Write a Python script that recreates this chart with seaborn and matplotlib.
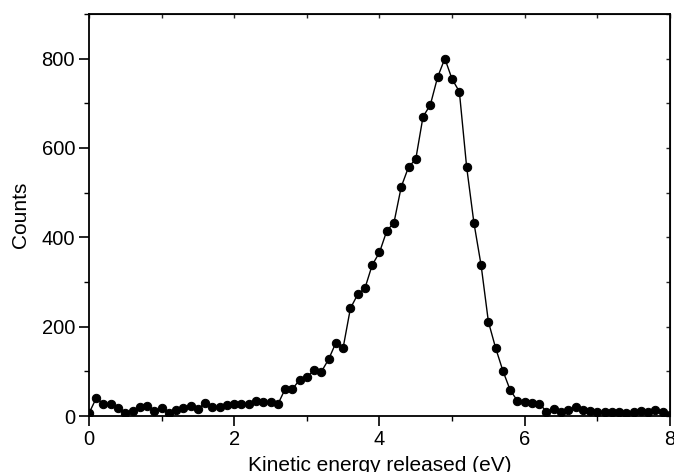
import matplotlib
matplotlib.use("Agg")
import matplotlib.pyplot as plt
import seaborn as sns
from matplotlib.ticker import MultipleLocator

# Kinetic energy (eV), 0.1 eV bins
energy = [round(0.1 * i, 1) for i in range(81)]

counts = [
    6, 40, 27, 26, 17, 6, 11, 21, 22, 12,      # 0.0 - 0.9
    17, 6, 13, 17, 22, 15, 30, 21, 20, 25,     # 1.0 - 1.9
    28, 28, 27, 34, 31, 31, 26, 60, 60, 81,    # 2.0 - 2.9
    87, 103, 99, 127, 164, 153, 241, 272, 286, 338,   # 3.0 - 3.9
    366, 414, 433, 513, 557, 575, 670, 696, 758, 800,  # 4.0 - 4.9
    754, 726, 558, 433, 337, 211, 152, 101, 58, 34,    # 5.0 - 5.9
    32, 30, 28, 10, 15, 8, 13, 21, 13, 11,     # 6.0 - 6.9
    10, 8, 8, 8, 7, 8, 11, 8, 13, 8,           # 7.0 - 7.9
    2,                                         # 8.0
]

sns.set_style("ticks")
plt.rcParams["font.family"] = ["Liberation Sans", "DejaVu Sans"]
plt.rcParams["axes.labelcolor"] = "black"
plt.rcParams["text.color"] = "black"

fig = plt.figure(figsize=(6.74, 4.72), dpi=100)
ax = fig.add_axes([0.132, 0.1186, 0.862, 0.852])

sns.lineplot(
    x=energy, y=counts, ax=ax,
    color="black", linewidth=1.0,
    marker="o", markersize=6, markeredgecolor="black",
)

ax.set_xlim(0, 8)
ax.set_ylim(0, 900)
ax.xaxis.set_major_locator(MultipleLocator(2))
ax.xaxis.set_minor_locator(MultipleLocator(1))
ax.yaxis.set_major_locator(MultipleLocator(200))
ax.yaxis.set_minor_locator(MultipleLocator(100))

for s in ax.spines.values():
    s.set_linewidth(1.3)
    s.set_color("black")

ax.tick_params(which="major", direction="out", length=7, width=1.2,
               labelsize=14.5, colors="black", pad=3)
ax.tick_params(which="minor", direction="out", length=3.5, width=1.0,
               colors="black")

# mirrored short inward ticks on top and right
top = ax.secondary_xaxis("top")
top.xaxis.set_major_locator(MultipleLocator(1))
top.tick_params(direction="in", length=3, width=1.0, labeltop=False)
right = ax.secondary_yaxis("right")
right.yaxis.set_major_locator(MultipleLocator(100))
right.tick_params(direction="in", length=3, width=1.0, labelright=False)

ax.set_xlabel("Kinetic energy released (eV)", fontsize=15, labelpad=5,
              color="black")
ax.set_ylabel("Counts", fontsize=15, labelpad=8, color="black")

fig.savefig("out.png", dpi=100)
plt.close(fig)
